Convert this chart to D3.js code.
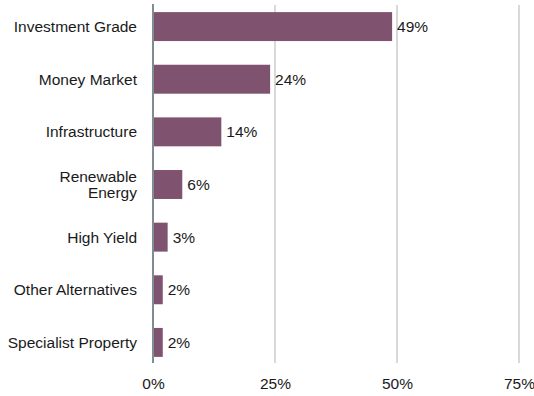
<!DOCTYPE html>
<html>
<head>
<meta charset="utf-8">
<script src="https://cdn.jsdelivr.net/npm/d3@7"></script>
<style>
  html, body { margin: 0; padding: 0; background: #fff; }
  svg { display: block; }
  text { font-family: "Liberation Sans", Arial, sans-serif; fill: #1a1a1a; }
</style>
</head>
<body>
<script>
// Allocation by asset class (percent of portfolio)
const categories = [
  ["Investment Grade"],
  ["Money Market"],
  ["Infrastructure"],
  ["Renewable", "Energy"],
  ["High Yield"],
  ["Other Alternatives"],
  ["Specialist Property"]
];
const values = [49, 24, 14, 6, 3, 2, 2];
const xTicks = [0, 25, 50, 75];

const width = 534, height = 396;
const fontSize = 15.5;
const svg = d3.select("body").append("svg")
  .attr("width", width).attr("height", height);

const keys = categories.map(c => c.join(" "));
const x = d3.scaleLinear().domain([0, 75]).range([153, 519]);
const y = d3.scaleBand().domain(keys).range([0, 369])
  .paddingInner(0.45).paddingOuter(0.23);

const gridTop = 5, gridBottom = 363;

// vertical gridlines
svg.append("g").selectAll("line")
  .data(xTicks.filter(t => t > 0))
  .join("line")
  .attr("x1", d => x(d)).attr("x2", d => x(d))
  .attr("y1", gridTop).attr("y2", gridBottom)
  .attr("stroke", "#d9d9d9").attr("stroke-width", 2);

// bars
svg.append("g").selectAll("rect")
  .data(values)
  .join("rect")
  .attr("x", x(0))
  .attr("y", (d, i) => y(keys[i]))
  .attr("width", d => x(d) - x(0))
  .attr("height", y.bandwidth())
  .attr("fill", "#7f5370");

// value labels
svg.append("g").selectAll("text")
  .data(values)
  .join("text")
  .attr("x", d => x(d) + 5)
  .attr("y", (d, i) => y(keys[i]) + y.bandwidth() / 2)
  .attr("dy", "0.35em")
  .attr("font-size", fontSize)
  .text(d => d + "%");

// category labels
const cat = svg.append("g").selectAll("text")
  .data(categories)
  .join("text")
  .attr("text-anchor", "end")
  .attr("font-size", fontSize)
  .attr("y", (d, i) => y(keys[i]) + y.bandwidth() / 2);
cat.each(function(lines) {
  const t = d3.select(this);
  const n = lines.length;
  lines.forEach((ln, j) => {
    t.append("tspan")
      .attr("x", 137)
      .attr("dy", j === 0 ? (0.35 - (n - 1) * 0.5) + "em" : "1.0em")
      .text(ln);
  });
});

// x axis tick labels
const xAxis = d3.axisBottom(x)
  .tickValues(xTicks)
  .tickFormat(d => d + "%")
  .tickSize(0)
  .tickPadding(0);
const gx = svg.append("g")
  .attr("transform", `translate(0, ${378})`)
  .call(xAxis);
gx.select(".domain").remove();
gx.selectAll("text")
  .attr("font-size", fontSize)
  .attr("font-family", "Liberation Sans, Arial, sans-serif")
  .attr("fill", "#1a1a1a");

// vertical axis line
svg.append("line")
  .attr("x1", x(0)).attr("x2", x(0))
  .attr("y1", 4).attr("y2", gridBottom)
  .attr("stroke", "#7f8c93").attr("stroke-width", 2);
</script>
</body>
</html>
